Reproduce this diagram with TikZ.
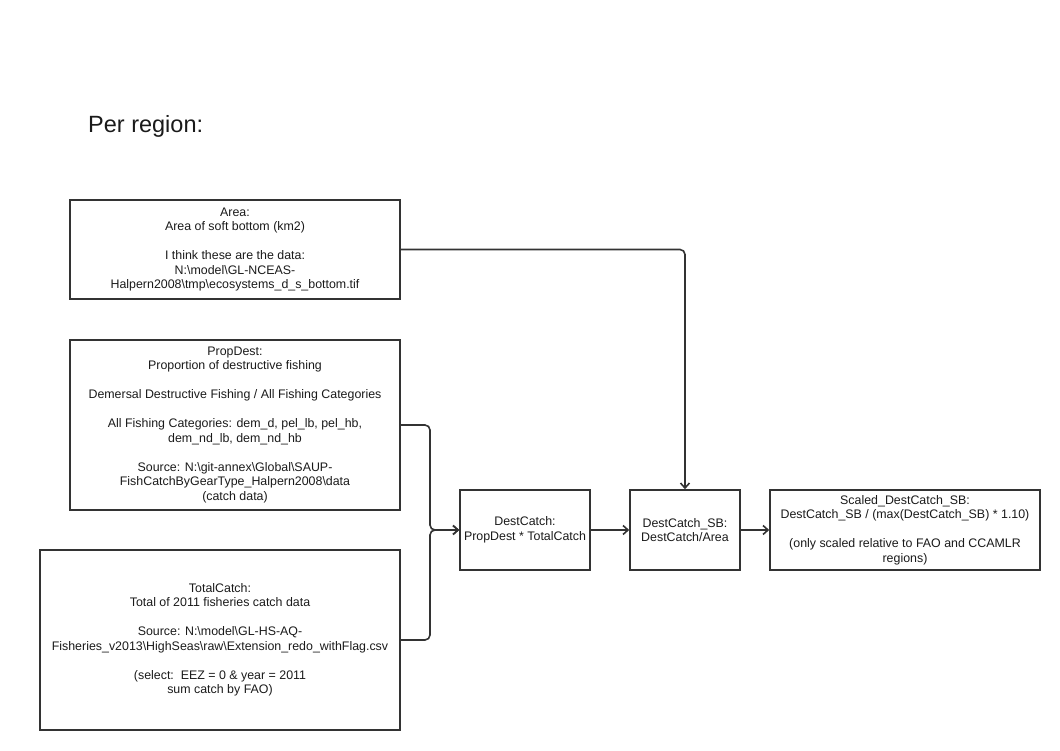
\documentclass[tikz,border=0pt]{standalone}
\usepackage{fontspec}
\setmainfont{Liberation Sans}
\usetikzlibrary{arrows.meta}
\definecolor{edgec}{HTML}{333333}
\definecolor{txtc}{HTML}{1A1A1A}
\newcommand{\bs}{\textbackslash{}}
\tikzset{
  box/.style={draw=edgec, line width=1.6pt, inner sep=0pt, align=center, text=txtc,
    font=\fontsize{12.4}{14.5}\selectfont},
  conn/.style={draw=edgec, line width=1.6pt, rounded corners=5pt,
    -{Straight Barb[length=5pt,width=9pt,line width=1.6pt]}},
}
\begin{document}
\begin{tikzpicture}[x=1pt,y=-1pt]
\useasboundingbox (0,0) rectangle (1060,750);
\node[anchor=base west, inner sep=0pt, text=txtc, font=\fontsize{23.5}{27}\selectfont] (title) at (88,132) {Per region:};
\node[box, minimum width=330pt, minimum height=99pt] (area) at (235,249.5)
  {Area:\\Area of soft bottom (km2)\\[14.5pt]I think these are the data:\\N:\bs model\bs GL-NCEAS-\\Halpern2008\bs tmp\bs ecosystems\_d\_s\_bottom.tif};
\node[box, minimum width=330pt, minimum height=170pt] (prop) at (235,425)
  {PropDest:\\Proportion of destructive fishing\\[14.5pt]Demersal Destructive Fishing / All Fishing Categories\\[14.5pt]All Fishing Categories: dem\_d, pel\_lb, pel\_hb,\\dem\_nd\_lb, dem\_nd\_hb\\[14.5pt]Source: N:\bs git-annex\bs Global\bs SAUP-\\FishCatchByGearType\_Halpern2008\bs data\\(catch data)};
\node[box, minimum width=360pt, minimum height=180pt] (tc) at (220,640)
  {TotalCatch:\\Total of 2011 fisheries catch data\\[14.5pt]Source: N:\bs model\bs GL-HS-AQ-\\Fisheries\_v2013\bs HighSeas\bs raw\bs Extension\_redo\_withFlag.csv\\[14.5pt](select:\ \ EEZ = 0 \& year = 2011\\sum catch by FAO)};
\node[box, minimum width=130pt, minimum height=80pt] (dc) at (525,530)
  {DestCatch:\\PropDest * TotalCatch};
\node[box, minimum width=110pt, minimum height=80pt] (dsb) at (685,530)
  {DestCatch\_SB:\\DestCatch/Area};
\node[box, minimum width=270pt, minimum height=80pt] (sc) at (905,530)
  {Scaled\_DestCatch\_SB:\\DestCatch\_SB / (max(DestCatch\_SB) * 1.10)\\[14.5pt](only scaled relative to FAO and CCAMLR\\regions)};
\coordinate (j) at (430,530);
\draw[conn] (area.east) -| (dsb.north);
\draw[conn] (prop.east) -| (j) -- (dc.west);
\draw[conn] (tc.east) -| (j) -- (dc.west);
\draw[conn] (dc.east) -- (dsb.west);
\draw[conn] (dsb.east) -- (sc.west);
\end{tikzpicture}
\end{document}
